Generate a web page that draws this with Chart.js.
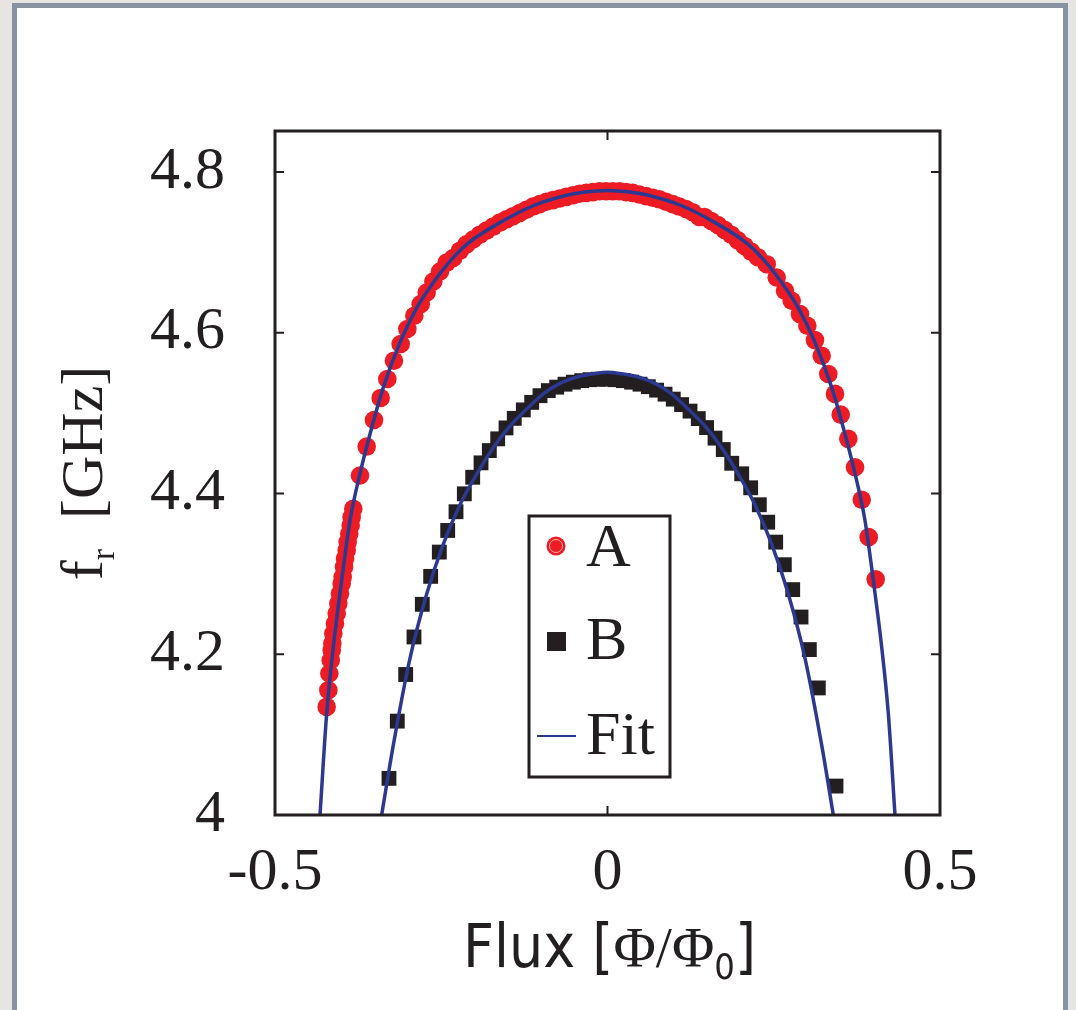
<!DOCTYPE html>
<html>
<head>
<meta charset="utf-8">
<script src="https://cdn.jsdelivr.net/npm/chart.js@4.4.1/dist/chart.umd.min.js"></script>
<style>
  html, body { margin: 0; padding: 0; }
  body { width: 1076px; height: 1010px; overflow: hidden; background: #e7e5e1; position: relative; }
  #frame { position: absolute; left: 12px; top: 3px; width: 1046px; height: 1030px; border: 5px solid #8793a3; background: #fff; }
  #fluxChart { position: absolute; left: 0; top: 0; }
</style>
</head>
<body>
<div id="frame"></div>
<canvas id="fluxChart" width="1076" height="1010"></canvas>
<script>
// sample A (red dots)
const fluxA = [-0.4223, -0.4198, -0.4183, -0.4162, -0.4147, -0.4138, -0.4123, -0.4098, -0.4072, -0.4048,
  -0.4023, -0.3997, -0.3982, -0.3962, -0.3947, -0.3922, -0.3907, -0.3883, -0.3862, -0.3847, -0.3823,
  -0.3722, -0.3621, -0.3511, -0.3411, -0.3311, -0.3211, -0.3110, -0.3010, -0.2905, -0.2809, -0.2719,
  -0.2619, -0.2519, -0.2418,
  -0.232, -0.222, -0.212, -0.202, -0.192, -0.182, -0.172, -0.162, -0.152, -0.142, -0.132, -0.122,
  -0.112, -0.102, -0.092, -0.082, -0.072, -0.062, -0.052, -0.042, -0.032, -0.022, -0.012, -0.002,
  0.008, 0.018, 0.028, 0.038, 0.048, 0.058, 0.068, 0.078, 0.088, 0.098, 0.108, 0.118, 0.128,
  0.138, 0.146, 0.156, 0.166, 0.176, 0.186, 0.196, 0.206, 0.216, 0.226,
  0.2394, 0.2544, 0.2669, 0.2770, 0.2895, 0.3005, 0.3120, 0.3221, 0.3320, 0.3421, 0.3507, 0.3621,
  0.3722, 0.3823, 0.3928, 0.4033];
const freqA = [4.1345, 4.1553, 4.1760, 4.1925, 4.2050, 4.2133, 4.2257, 4.2381, 4.2506, 4.2630,
  4.2754, 4.2878, 4.2960, 4.3085, 4.3189, 4.3292, 4.3395, 4.3499, 4.3602, 4.3706, 4.3810,
  4.4224, 4.4584, 4.4915, 4.5189, 4.5425, 4.5652, 4.5860, 4.6046, 4.6211, 4.6356, 4.6501,
  4.6637, 4.6762, 4.6873,
  4.693, 4.702, 4.710, 4.716, 4.722, 4.727, 4.732, 4.737, 4.741, 4.745, 4.749, 4.753,
  4.757, 4.760, 4.763, 4.765, 4.767, 4.769, 4.771, 4.773, 4.774, 4.775, 4.776, 4.776,
  4.776, 4.776, 4.775, 4.774, 4.772, 4.770, 4.768, 4.766, 4.763, 4.760, 4.757, 4.754, 4.750,
  4.744, 4.744, 4.739, 4.734, 4.728, 4.722, 4.715, 4.708, 4.701, 4.694,
  4.6853, 4.6687, 4.6522, 4.6398, 4.6232, 4.6087, 4.5909, 4.5714, 4.5487, 4.5239, 4.4981, 4.4680,
  4.4327, 4.3922, 4.3457, 4.2932];

// sample B (black squares)
const fluxB = [-0.3286, -0.3161, -0.3035, -0.2910, -0.2785, -0.2659, -0.2529, -0.2403, -0.2278, -0.2153,
  -0.2027, -0.1902, -0.1777, -0.1651, -0.1526, -0.1402, -0.1266, -0.1140, -0.1015, -0.0890,
  -0.0764, -0.0639, -0.0514, -0.0388, -0.0263, -0.0138,
  -0.0014, 0.0113, 0.0238, 0.0362, 0.0489, 0.0614, 0.0738, 0.0865, 0.0989, 0.1114, 0.1241,
  0.1365, 0.1490, 0.1617, 0.1741,
  0.1868, 0.2018, 0.2153, 0.2283, 0.2409, 0.2529, 0.2659, 0.2785, 0.2910, 0.3035, 0.3170, 0.3436];
const freqB = [4.0456, 4.1168, 4.1748, 4.2215, 4.2621, 4.2969, 4.3271, 4.3540, 4.3773, 4.3996,
  4.4202, 4.4381, 4.4534, 4.4680, 4.4816, 4.4935, 4.5040, 4.5134, 4.5217, 4.5280,
  4.5323, 4.5360, 4.5385, 4.5404, 4.5416, 4.5422,
  4.5422, 4.5416, 4.5404, 4.5385, 4.5360, 4.5329, 4.5286, 4.5236, 4.5174, 4.5106, 4.5025,
  4.4932, 4.4820, 4.4689, 4.4547,
  4.4376, 4.4245, 4.4071, 4.3860, 4.3643, 4.3395, 4.3114, 4.2804, 4.2463, 4.2058, 4.1581, 4.0360];

// fit curves (blue)
const fitFluxA = [-0.4323, -0.4223, -0.4123, -0.3997, -0.3872, -0.3747, -0.3571, -0.3371, -0.312, -0.2869,
  -0.2619, -0.2368, -0.2117, -0.1617, -0.1116, -0.0614, -0.0338, 0,
  0.0338, 0.0614, 0.1116, 0.1617, 0.2117, 0.2368, 0.2619, 0.2869, 0.312, 0.3371, 0.3571, 0.3747,
  0.3872, 0.3997, 0.4123, 0.4223, 0.4323];
const fitFreqA = [4.0, 4.126, 4.209, 4.292, 4.3665, 4.416, 4.474, 4.532, 4.588, 4.631,
  4.6625, 4.689, 4.710, 4.737, 4.758, 4.771, 4.775, 4.777,
  4.775, 4.771, 4.758, 4.737, 4.710, 4.689, 4.6625, 4.631, 4.588, 4.532, 4.474, 4.416,
  4.3665, 4.292, 4.209, 4.126, 4.0];
const fitFluxB = [-0.3396, -0.3221, -0.297, -0.2719, -0.2469, -0.2218, -0.1967, -0.1717, -0.1466, -0.1215,
  -0.0965, -0.0714, -0.0463, -0.0214, 0,
  0.0214, 0.0463, 0.0714, 0.0965, 0.1215, 0.1466, 0.1717, 0.1967, 0.2218, 0.2469, 0.2719,
  0.297, 0.3221, 0.3396];
const fitFreqB = [4.0, 4.087, 4.195, 4.275, 4.337, 4.386, 4.424, 4.457, 4.484, 4.505,
  4.524, 4.537, 4.545, 4.549, 4.551,
  4.549, 4.545, 4.537, 4.524, 4.505, 4.484, 4.457, 4.424, 4.386, 4.337, 4.275,
  4.195, 4.087, 4.0];

const xTicks = [-0.5, 0, 0.5];
const yTicks = [4, 4.2, 4.4, 4.6, 4.8];

const red = "#ed1c24";
const ink = "#231f20";
const blue = "#2b3990";
const serif = '"Liberation Serif", "Times New Roman", serif';
const narrow = '"Liberation Sans Narrow", "DejaVu Sans Condensed", "Liberation Sans", sans-serif';

function pairs(xs, ys) {
    return xs.map((v, i) => ({ x: v, y: ys[i] }));
}

// draws a row of text pieces centred on the current origin
function drawParts(ctx, parts) {
    let total = 0;
    parts.forEach(p => { ctx.font = p.font; p.w = ctx.measureText(p.text).width; total += p.w; });
    let cx = -total / 2;
    parts.forEach(p => {
        ctx.font = p.font;
        ctx.fillText(p.text, cx, p.dy || 0);
        cx += p.w;
    });
}

const boxPlugin = {
    id: "boxPlugin",
    afterDraw(chart) {
        const { ctx, chartArea: a } = chart;
        const x = chart.scales.x, y = chart.scales.y;
        ctx.save();
        ctx.strokeStyle = ink;
        ctx.lineWidth = 3;
        ctx.strokeRect(a.left, a.top, a.right - a.left, a.bottom - a.top);

        // inward ticks on all four sides
        ctx.lineWidth = 2;
        ctx.beginPath();
        y.ticks.forEach(t => {
            const py = y.getPixelForValue(t.value);
            ctx.moveTo(a.left, py); ctx.lineTo(a.left + 9, py);
            ctx.moveTo(a.right - 9, py); ctx.lineTo(a.right, py);
        });
        x.ticks.forEach(t => {
            const px = x.getPixelForValue(t.value);
            ctx.moveTo(px, a.bottom); ctx.lineTo(px, a.bottom - 9);
            ctx.moveTo(px, a.top); ctx.lineTo(px, a.top + 9);
        });
        ctx.stroke();

        // axis titles
        ctx.fillStyle = ink;
        ctx.textBaseline = "alphabetic";
        ctx.textAlign = "left";
        ctx.save();
        ctx.translate(102, (a.top + a.bottom) / 2);
        ctx.rotate(-Math.PI / 2);
        drawParts(ctx, [
            { text: "f", font: "60px " + serif },
            { text: "r", font: "34px " + serif, dy: 12 },
            { text: "  [GHz]", font: "60px " + serif }
        ]);
        ctx.restore();

        ctx.save();
        ctx.translate((a.left + a.right) / 2 + 2, 967);
        drawParts(ctx, [
            { text: "Flux [", font: "60px " + narrow },
            { text: "\u03A6/\u03A6", font: "58px " + serif },
            { text: "0", font: "36px " + narrow, dy: 12 },
            { text: "]", font: "60px " + narrow }
        ]);
        ctx.restore();
        ctx.restore();
    }
};

const legendPlugin = {
    id: "legendPlugin",
    afterDraw(chart) {
        const { ctx, chartArea: a } = chart;
        const ds = chart.data.datasets;
        const left = a.left + 254, top = a.top + 385;
        ctx.save();
        ctx.fillStyle = "#fff";
        ctx.fillRect(left, top, 141, 261);
        ctx.strokeStyle = ink;
        ctx.lineWidth = 3;
        ctx.strokeRect(left, top, 141, 261);

        // A
        ctx.fillStyle = red;
        ctx.beginPath();
        ctx.arc(left + 27, top + 30, 9.5, 0, Math.PI * 2);
        ctx.fill();
        ctx.strokeStyle = "rgba(255, 190, 190, 0.9)";
        ctx.lineWidth = 1;
        ctx.beginPath();
        ctx.arc(left + 27, top + 30, 6.5, 0, Math.PI * 2);
        ctx.stroke();

        // B
        ctx.fillStyle = ink;
        ctx.fillRect(left + 18, top + 116, 19, 19);

        // Fit
        ctx.strokeStyle = blue;
        ctx.lineWidth = 2;
        ctx.beginPath();
        ctx.moveTo(left + 8, top + 220);
        ctx.lineTo(left + 47, top + 220);
        ctx.stroke();

        ctx.fillStyle = ink;
        ctx.font = "62px " + serif;
        ctx.textAlign = "left";
        ctx.textBaseline = "alphabetic";
        ctx.fillText(ds[3].label, left + 57, top + 50);
        ctx.fillText(ds[2].label, left + 57, top + 143);
        ctx.fillText(ds[0].label, left + 57, top + 238);
        ctx.restore();
    }
};

const tickFont = { family: serif, size: 60 };

new Chart(document.getElementById("fluxChart"), {
    type: "scatter",
    data: {
        datasets: [
            {
                label: "Fit",
                data: pairs(fitFluxA, fitFreqA),
                showLine: true,
                borderColor: blue,
                borderWidth: 3.5,
                pointRadius: 0,
                cubicInterpolationMode: "monotone",
                order: 0
            },
            {
                label: "Fit",
                data: pairs(fitFluxB, fitFreqB),
                showLine: true,
                borderColor: blue,
                borderWidth: 3.5,
                pointRadius: 0,
                cubicInterpolationMode: "monotone",
                order: 1
            },
            {
                label: "B",
                data: pairs(fluxB, freqB),
                pointStyle: "rect",
                pointRadius: 10.5,
                backgroundColor: ink,
                borderWidth: 0,
                order: 2
            },
            {
                label: "A",
                data: pairs(fluxA, freqA),
                pointStyle: "circle",
                pointRadius: 9.3,
                backgroundColor: red,
                borderWidth: 0,
                order: 3
            }
        ]
    },
    options: {
        responsive: false,
        animation: false,
        events: [],
        layout: { padding: { left: 0, top: 131, right: 136, bottom: 0 } },
        plugins: {
            legend: { display: false },
            tooltip: { enabled: false }
        },
        scales: {
            x: {
                type: "linear",
                min: -0.5,
                max: 0.5,
                afterFit: scale => { scale.height = 195; },
                afterBuildTicks: scale => { scale.ticks = xTicks.map(v => ({ value: v })); },
                grid: { display: false, drawTicks: false },
                border: { display: false },
                ticks: {
                    font: tickFont,
                    color: ink,
                    padding: 22,
                    maxRotation: 0,
                    callback: v => String(Number(v.toFixed(2)))
                }
            },
            y: {
                type: "linear",
                min: 4,
                max: 4.851,
                afterFit: scale => { scale.width = 275; },
                afterBuildTicks: scale => { scale.ticks = yTicks.map(v => ({ value: v })); },
                grid: { display: false, drawTicks: false },
                border: { display: false },
                ticks: {
                    font: tickFont,
                    color: ink,
                    padding: 50,
                    callback: v => String(Number(v.toFixed(2)))
                }
            }
        }
    },
    plugins: [boxPlugin, legendPlugin]
});
</script>
</body>
</html>
